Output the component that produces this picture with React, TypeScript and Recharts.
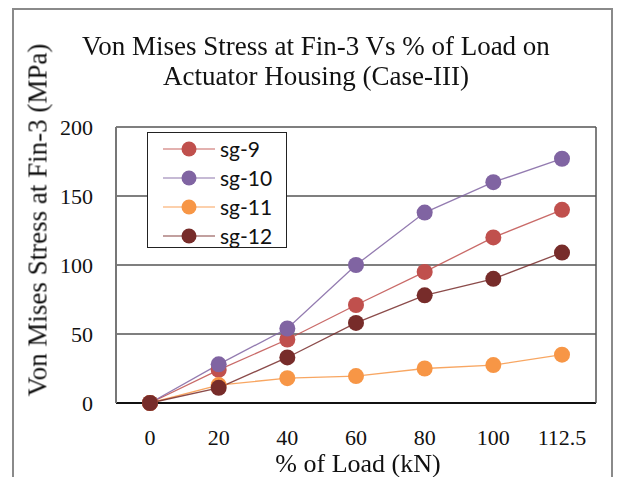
import { CartesianGrid, Line, LineChart, XAxis, YAxis } from "recharts";

const loads = ["0", "20", "40", "60", "80", "100", "112.5"];
const sg9 = [0, 24, 46, 71, 95, 120, 140];
const sg10 = [0, 28, 54, 100, 138, 160, 177];
const sg11 = [0, 13, 18, 19.5, 25, 27.5, 35];
const sg12 = [0, 11, 33, 58, 78, 90, 109];
const yTicks = [0, 50, 100, 150, 200];

const SERIES = [
  { key: "sg9", label: "sg-9", color: "#c0504d", values: sg9 },
  { key: "sg10", label: "sg-10", color: "#8064a2", values: sg10 },
  { key: "sg11", label: "sg-11", color: "#f79646", values: sg11 },
  { key: "sg12", label: "sg-12", color: "#772c2a", values: sg12 },
];

const data = loads.map((load, i) => {
  const row: Record<string, string | number> = { load };
  SERIES.forEach((s) => {
    row[s.key] = s.values[i];
  });
  return row;
});

const SERIF = '"Liberation Serif", "Times New Roman", serif';

function LegendBox() {
  return (
    <div
      style={{
        position: "absolute",
        left: 147,
        top: 132,
        width: 140,
        height: 116,
        border: "1.5px solid #222",
        background: "#fff",
        boxSizing: "border-box",
        paddingTop: 1,
      }}
    >
      {SERIES.map((s) => (
        <div key={s.key} style={{ display: "flex", alignItems: "center", height: 29 }}>
          <svg width={72} height={20} style={{ flexShrink: 0 }}>
            <line x1={15} x2={67} y1={10} y2={10} stroke={s.color} strokeOpacity={0.6} strokeWidth={1.5} />
            <circle cx={41} cy={10} r={7.5} fill={s.color} />
          </svg>
          <span style={{ fontFamily: "Lato, sans-serif", fontSize: 21, color: "#111", lineHeight: "20px" }}>
            {s.label}
          </span>
        </div>
      ))}
    </div>
  );
}

export default function App() {
  return (
    <div style={{ position: "fixed", left: 0, top: 0, width: 623, height: 477, background: "#fff" }}>
      <div
        style={{
          position: "absolute",
          left: 12,
          top: 8,
          width: 601,
          height: 480,
          border: "2px solid #8a8a8a",
          borderBottom: "none",
          boxSizing: "border-box",
        }}
      />
      <LineChart width={623} height={477} data={data} margin={{ top: 127, right: 26, bottom: 0, left: 0 }}>
        <CartesianGrid vertical={false} stroke="#555" strokeWidth={1.5} />
        <XAxis
          dataKey="load"
          height={74}
          padding={{ left: 34, right: 34 }}
          tickLine={false}
          tickSize={0}
          tickMargin={26}
          axisLine={{ stroke: "#111", strokeWidth: 2 }}
          tick={{ fontFamily: SERIF, fontSize: 22, fill: "#111" }}
        />
        <YAxis
          domain={[0, 200]}
          ticks={yTicks}
          width={116}
          tickLine={false}
          tickSize={0}
          tickMargin={23}
          axisLine={{ stroke: "#777", strokeWidth: 2 }}
          tick={{ fontFamily: SERIF, fontSize: 22, fill: "#111" }}
        />
        <YAxis
          yAxisId="frame"
          orientation="right"
          domain={[0, 200]}
          width={1}
          tick={false}
          tickLine={false}
          axisLine={{ stroke: "#555", strokeWidth: 1.5 }}
        />
        {SERIES.map((s) => (
          <Line
            key={s.key}
            dataKey={s.key}
            name={s.label}
            type="linear"
            stroke={s.color}
            strokeOpacity={0.85}
            strokeWidth={1.3}
            dot={{ r: 8, fill: s.color, stroke: "none" }}
            activeDot={false}
            isAnimationActive={false}
          />
        ))}
      </LineChart>
      <LegendBox />
      <div
        style={{
          position: "absolute",
          left: 0,
          width: 632,
          top: 31,
          textAlign: "center",
          fontFamily: SERIF,
          fontSize: 27,
          lineHeight: "30px",
          color: "#111",
        }}
      >
        Von Mises Stress at Fin-3 Vs % of Load on
        <br />
        Actuator Housing (Case-III)
      </div>
      <div
        style={{
          position: "absolute",
          left: 38,
          top: 220,
          transform: "translate(-50%, -50%) rotate(-90deg)",
          whiteSpace: "nowrap",
          fontFamily: SERIF,
          fontSize: 27,
          color: "#111",
        }}
      >
        Von Mises Stress at Fin-3 (MPa)
      </div>
      <div
        style={{
          position: "absolute",
          left: 358,
          top: 464,
          transform: "translate(-50%, -50%)",
          whiteSpace: "nowrap",
          fontFamily: SERIF,
          fontSize: 26,
          color: "#111",
        }}
      >
        % of Load (kN)
      </div>
    </div>
  );
}
